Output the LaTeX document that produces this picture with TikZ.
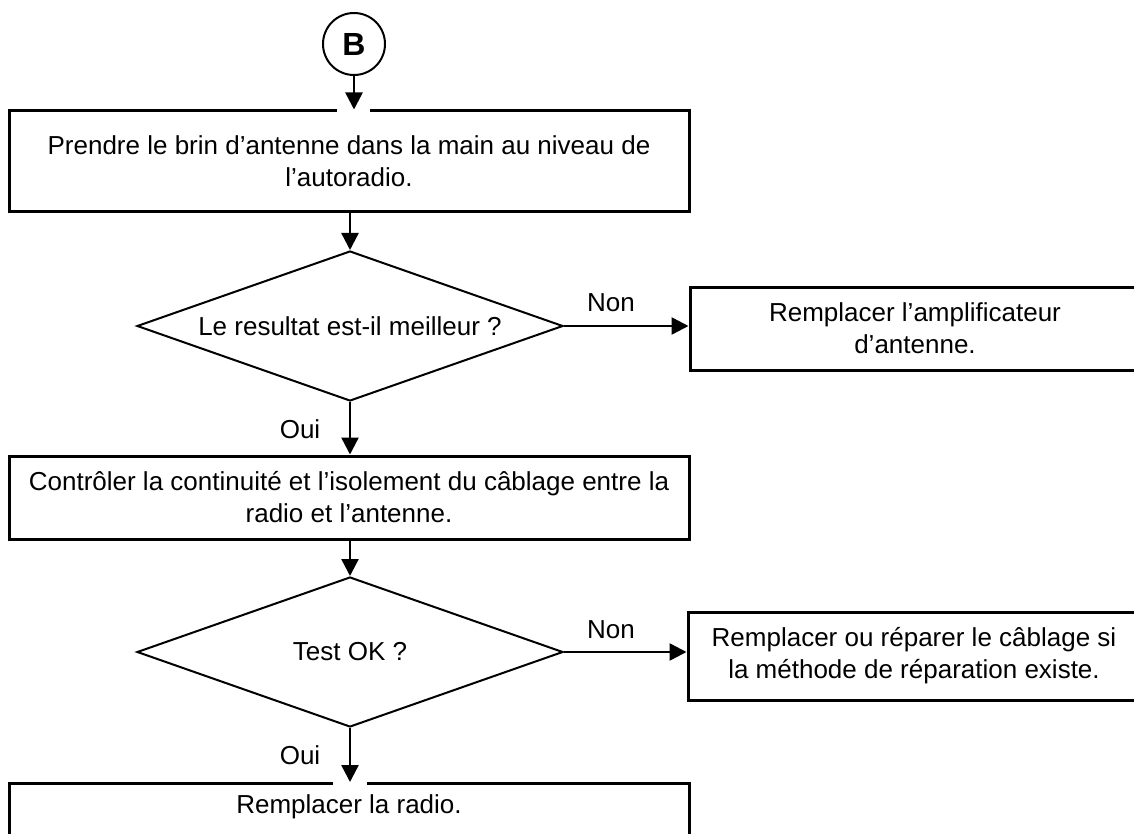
\documentclass[tikz,border=0pt]{standalone}
\usepackage{fontspec}
\setmainfont{Liberation Sans}
\usetikzlibrary{arrows.meta,shapes.geometric}
\begin{document}
\begin{tikzpicture}[x=1pt,y=-1pt,
  txt/.style={font=\fontsize{26}{32}\selectfont},
  box/.style={draw,line width=3pt,rectangle,inner sep=0pt,align=center,txt},
  dia/.style={draw,line width=2pt,diamond,inner sep=0pt,shape aspect=2.86,
    minimum width=426pt,minimum height=150pt,align=center,txt},
  arr/.style={line width=2.5pt,-{Triangle[width=17pt,length=17pt]}},
  lbl/.style={txt,inner sep=0pt}]
\useasboundingbox (0,0) rectangle (1134,834);
\clip (0,0) rectangle (1134,834);
\node[circle,draw,line width=2pt,minimum size=62pt,inner sep=0pt,
  font=\bfseries\fontsize{32}{32}\selectfont] (B) at (354,44) {B};
\node[box,minimum width=680pt,minimum height=101pt] (b1) at (349,161.5)
  {Prendre le brin d’antenne dans la main au niveau de\\l’autoradio.};
\node[dia] (d1) at (350,326) {Le resultat est-il meilleur ?};
\node[box,minimum width=450pt,minimum height=83pt] (amp) at (915,328.5)
  {Remplacer l’amplificateur\\d’antenne.};
\node[box,minimum width=680pt,minimum height=83pt] (b2) at (349,497.5)
  {Contrôler la continuité et l’isolement du câblage entre la\\radio et l’antenne.};
\node[dia] (d2) at (350,652) {Test OK ?};
\node[box,minimum width=452pt,minimum height=88pt] (rep) at (914,656)
  {Remplacer ou réparer le câblage si\\la méthode de réparation existe.};
\node[box,minimum width=680pt,text height=30pt,text depth=60pt,anchor=north] (rad) at (349,782)
  {Remplacer la radio.};
\node[lbl] (n1) at (611,303) {Non};
\node[lbl] (n2) at (611,630) {Non};
\node[lbl] (o1) at (300,429) {Oui};
\node[lbl] (o2) at (300,755) {Oui};
% white gaps where arrows meet box tops
\draw[white,line width=5pt] ([xshift=-17pt]B.south |- b1.north) -- ([xshift=16pt]B.south |- b1.north);
\draw[white,line width=5pt] ([xshift=-17pt]d2.south |- rad.north) -- ([xshift=17pt]d2.south |- rad.north);
\draw[arr] (B.south) -- (B.south |- b1.north);
\draw[arr] (b1.south -| d1.north) -- (d1.north);
\draw[arr] (d1.east) -- (d1.east -| amp.west);
\draw[arr] (d1.south) -- (d1.south |- b2.north);
\draw[arr] (b2.south -| d2.north) -- (d2.north);
\draw[arr] (d2.east) -- (d2.east -| rep.west);
\draw[arr] (d2.south) -- (d2.south |- rad.north);
\end{tikzpicture}
\end{document}
